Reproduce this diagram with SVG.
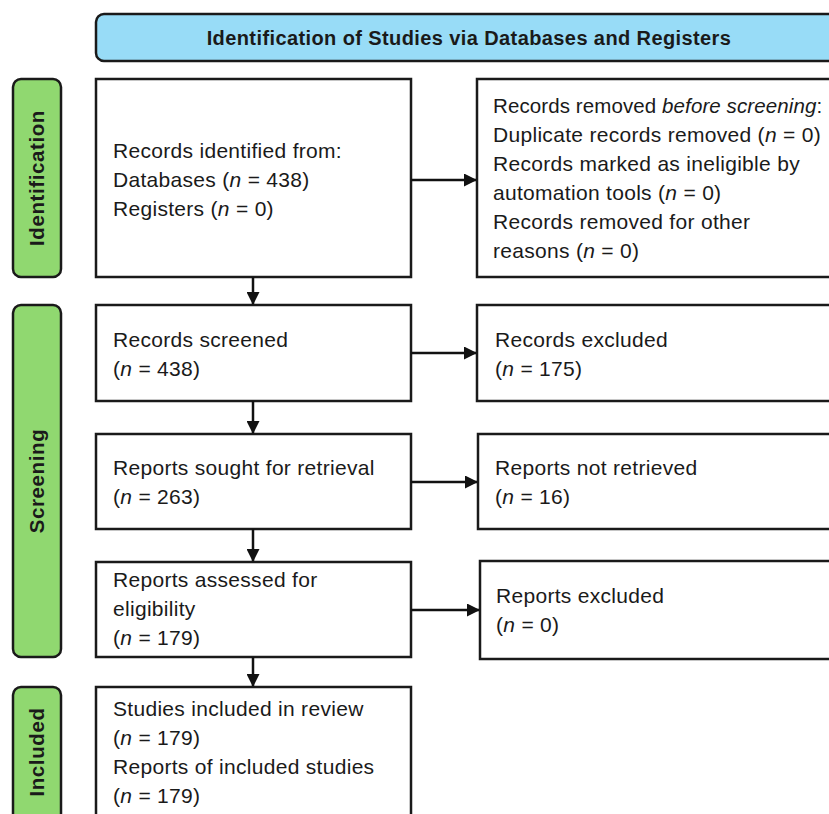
<svg xmlns="http://www.w3.org/2000/svg" width="829" height="814" viewBox="0 0 829 814">
<style>
.box{fill:#ffffff;stroke:#1a1a1a;stroke-width:2.5}
.side{fill:#90d870;stroke:#1a1a1a;stroke-width:2.5}
.head{fill:#98dcf7;stroke:#1a1a1a;stroke-width:2.5}
.t{font-family:"Liberation Sans",Arial,sans-serif;font-size:21px;letter-spacing:0.3px;fill:#1a1a1a}
.b{font-family:"Liberation Sans",Arial,sans-serif;font-size:20px;letter-spacing:0.4px;font-weight:bold;fill:#1a1a1a}
.s{font-family:"Liberation Sans",Arial,sans-serif;font-size:20.5px;letter-spacing:0.6px;font-weight:bold;fill:#1a1a1a}
.con{stroke:#111;stroke-width:2.5;fill:none}
</style>
<defs>
<marker id="arr" markerWidth="13" markerHeight="13" refX="12" refY="6.5" orient="auto" markerUnits="userSpaceOnUse">
<path d="M0,0 L13,6.5 L0,13 z" fill="#111"/>
</marker>
</defs>
<g id="header">
<rect class="head" x="96" y="14" width="750" height="47" rx="8"/>
<text class="b" x="469" y="45" text-anchor="middle">Identification of Studies via Databases and Registers</text>
</g>
<g id="phase-identification">
<rect class="side" x="13" y="79" width="48" height="198" rx="8"/>
<text class="s" transform="translate(44,178) rotate(-90)" text-anchor="middle">Identification</text>
</g>
<g id="phase-screening">
<rect class="side" x="13" y="305" width="48" height="352" rx="8"/>
<text class="s" transform="translate(44,481) rotate(-90)" text-anchor="middle">Screening</text>
</g>
<g id="phase-included">
<rect class="side" x="13" y="687" width="48" height="150" rx="8"/>
<text class="s" transform="translate(44,752) rotate(-90)" text-anchor="middle">Included</text>
</g>
<g id="records-identified">
<rect class="box" x="96" y="79" width="315" height="198"/>
<text class="t" x="113" y="158">Records identified from:</text>
<text class="t" x="113" y="187">Databases (<tspan font-style="italic">n</tspan> = 438)</text>
<text class="t" x="113" y="216">Registers (<tspan font-style="italic">n</tspan> = 0)</text>
</g>
<g id="records-removed">
<rect class="box" x="477" y="79" width="370" height="198"/>
<text class="t" x="493" y="113" style="font-size:20.5px;letter-spacing:0.1px">Records removed <tspan font-style="italic">before screening</tspan>:</text>
<text class="t" x="493" y="142">Duplicate records removed (<tspan font-style="italic">n</tspan> = 0)</text>
<text class="t" x="493" y="171">Records marked as ineligible by</text>
<text class="t" x="493" y="200">automation tools (<tspan font-style="italic">n</tspan> = 0)</text>
<text class="t" x="493" y="229">Records removed for other</text>
<text class="t" x="493" y="258">reasons (<tspan font-style="italic">n</tspan> = 0)</text>
</g>
<g id="records-screened">
<rect class="box" x="96" y="305" width="315" height="96"/>
<text class="t" x="113" y="347">Records screened</text>
<text class="t" x="113" y="376">(<tspan font-style="italic">n</tspan> = 438)</text>
</g>
<g id="records-excluded">
<rect class="box" x="477" y="305" width="370" height="96"/>
<text class="t" x="495" y="347">Records excluded</text>
<text class="t" x="495" y="376">(<tspan font-style="italic">n</tspan> = 175)</text>
</g>
<g id="reports-sought">
<rect class="box" x="96" y="434" width="315" height="95"/>
<text class="t" x="113" y="475">Reports sought for retrieval</text>
<text class="t" x="113" y="504">(<tspan font-style="italic">n</tspan> = 263)</text>
</g>
<g id="reports-not-retrieved">
<rect class="box" x="478" y="434" width="370" height="95"/>
<text class="t" x="495" y="475">Reports not retrieved</text>
<text class="t" x="495" y="504">(<tspan font-style="italic">n</tspan> = 16)</text>
</g>
<g id="reports-assessed">
<rect class="box" x="96" y="562" width="315" height="95"/>
<text class="t" x="113" y="587">Reports assessed for</text>
<text class="t" x="113" y="616">eligibility</text>
<text class="t" x="113" y="645">(<tspan font-style="italic">n</tspan> = 179)</text>
</g>
<g id="reports-excluded">
<rect class="box" x="480" y="561" width="370" height="98"/>
<text class="t" x="496" y="603">Reports excluded</text>
<text class="t" x="496" y="632">(<tspan font-style="italic">n</tspan> = 0)</text>
</g>
<g id="studies-included">
<rect class="box" x="96" y="687" width="315" height="150"/>
<text class="t" x="113" y="716">Studies included in review</text>
<text class="t" x="113" y="745">(<tspan font-style="italic">n</tspan> = 179)</text>
<text class="t" x="113" y="774">Reports of included studies</text>
<text class="t" x="113" y="803">(<tspan font-style="italic">n</tspan> = 179)</text>
</g>
<g id="connectors">
<line class="con" x1="253" y1="277" x2="253" y2="304" marker-end="url(#arr)"/>
<line class="con" x1="253" y1="401" x2="253" y2="433" marker-end="url(#arr)"/>
<line class="con" x1="253" y1="529" x2="253" y2="561" marker-end="url(#arr)"/>
<line class="con" x1="253" y1="657" x2="253" y2="686" marker-end="url(#arr)"/>
<line class="con" x1="411" y1="180" x2="476" y2="180" marker-end="url(#arr)"/>
<line class="con" x1="411" y1="353" x2="476" y2="353" marker-end="url(#arr)"/>
<line class="con" x1="411" y1="482" x2="477" y2="482" marker-end="url(#arr)"/>
<line class="con" x1="411" y1="610" x2="479" y2="610" marker-end="url(#arr)"/>
</g>
</svg>
